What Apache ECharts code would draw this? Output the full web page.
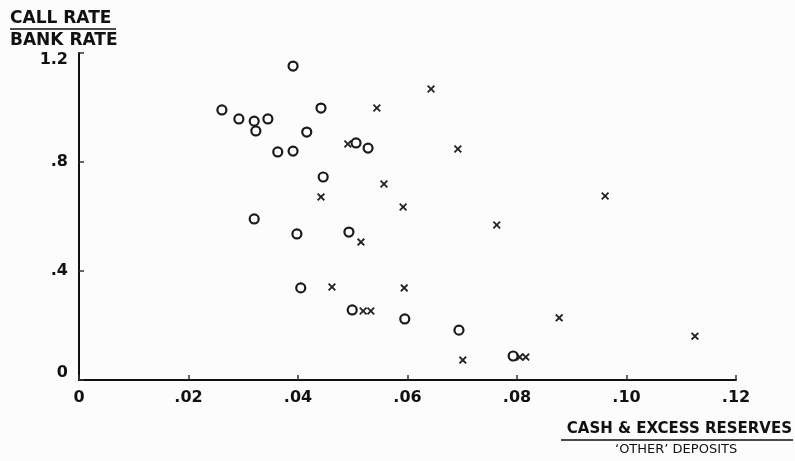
<!DOCTYPE html>
<html>
<head>
<meta charset="utf-8">
<script src="https://cdn.jsdelivr.net/npm/echarts@6/dist/echarts.min.js"></script>
<style>
html,body{margin:0;padding:0;background:#fcfcfc;}
#chart{width:795px;height:461px;}
</style>
</head>
<body>
<div id="chart"></div>
<script>
// Circles ("o") : [cash & excess reserves / other deposits, call rate / bank rate]
var circleX = [0.0391,0.0261,0.0442,0.0292,0.0320,0.0345,0.0323,0.0416,0.0363,0.0391,0.0506,0.0528,0.0446,0.0320,0.0398,0.0493,0.0405,0.0499,0.0595,0.0694,0.0793];
var circleY = [1.152,0.991,0.998,0.958,0.950,0.958,0.914,0.910,0.837,0.840,0.870,0.851,0.745,0.591,0.536,0.543,0.338,0.257,0.224,0.183,0.088];
// Crosses ("x")
var crossX = [0.0643,0.0544,0.0491,0.0692,0.0557,0.0442,0.0592,0.0961,0.0763,0.0515,0.0462,0.0594,0.0519,0.0533,0.0877,0.1125,0.0701,0.0805,0.0816];
var crossY = [1.068,0.998,0.866,0.848,0.719,0.672,0.635,0.675,0.569,0.506,0.341,0.338,0.253,0.253,0.228,0.161,0.073,0.084,0.084];
// Tick labels
var xTicks = [0,0.02,0.04,0.06,0.08,0.10,0.12];
var xTickLabels = ['0','.02','.04','.06','.08','.10','.12'];
var yTicks = [0,0.4,0.8,1.2];
var yTickLabels = ['0','.4','.8','1.2'];

function pairs(xs, ys){ return xs.map(function(v,i){ return [v, ys[i]]; }); }
function lab(ticks, labels){
  return function(v){
    for (var i=0;i<ticks.length;i++){ if (Math.abs(ticks[i]-v)<1e-9) return labels[i]; }
    return '';
  };
}
var yLab = lab(yTicks, yTickLabels);
function yLabel(v){
  var s = yLab(v);
  if (Math.abs(v-1.2)<1e-9) return '{top|'+s+'}';
  if (Math.abs(v)<1e-9) return '{bot|'+s+'}';
  return s;
}
var FONT = '"DejaVu Sans", sans-serif';
var chart = echarts.init(document.getElementById('chart'));
var crossPath = 'path://M0,1.6L1.6,0L5,3.4L8.4,0L10,1.6L6.6,5L10,8.4L8.4,10L5,6.6L1.6,10L0,8.4L3.4,5Z';
chart.setOption({
  backgroundColor:'#fcfcfc',
  animation:false,
  grid:{left:79,right:59,top:53,bottom:81},
  xAxis:{
    type:'value',min:0,max:0.12,interval:0.02,
    axisLine:{show:true,onZero:false,lineStyle:{color:'#111',width:2}},
    axisTick:{show:true,inside:true,length:5,lineStyle:{color:'#333',width:1.5}},
    splitLine:{show:false},
    axisLabel:{formatter:lab(xTicks,xTickLabels),color:'#111',fontFamily:FONT,fontSize:16,fontWeight:'bold',margin:10}
  },
  yAxis:{
    type:'value',min:0,max:1.2,interval:0.4,
    axisLine:{show:true,onZero:false,lineStyle:{color:'#111',width:2}},
    axisTick:{show:true,inside:true,length:5,lineStyle:{color:'#333',width:1.5}},
    splitLine:{show:false},
    axisLabel:{formatter:yLabel,color:'#111',fontFamily:FONT,fontSize:16,fontWeight:'bold',margin:11,
      rich:{
        top:{fontFamily:FONT,fontSize:16,fontWeight:'bold',color:'#111',padding:[14,0,0,0]},
        bot:{fontFamily:FONT,fontSize:16,fontWeight:'bold',color:'#111',padding:[0,0,14,0]}
      }}
  },
  series:[
    {type:'scatter',name:'o',data:pairs(circleX,circleY),symbol:'circle',symbolSize:9,
     itemStyle:{color:'rgba(255,255,255,0)',borderColor:'#1a1a1a',borderWidth:2.2,opacity:1}},
    {type:'scatter',name:'x',data:pairs(crossX,crossY),symbol:crossPath,symbolSize:8,
     itemStyle:{color:'#222',opacity:1}}
  ],
  graphic:[
    {type:'text',left:10,top:10,style:{text:'CALL RATE',font:'bold 17px '+FONT,fill:'#111'}},
    {type:'line',shape:{x1:10,y1:29,x2:116,y2:29},style:{stroke:'#111',lineWidth:1.5}},
    {type:'text',left:10,top:32,style:{text:'BANK RATE',font:'bold 17px '+FONT,fill:'#111'}},
    {type:'text',right:3,top:422,style:{text:'CASH & EXCESS RESERVES',font:'bold 15px '+FONT,fill:'#111'}},
    {type:'line',shape:{x1:561,y1:440,x2:793,y2:440},style:{stroke:'#111',lineWidth:1.5}},
    {type:'text',left:615,top:443,style:{text:'\u2018OTHER\u2019 DEPOSITS',font:'13px '+FONT,fill:'#111'}}
  ]
});
</script>
</body>
</html>
